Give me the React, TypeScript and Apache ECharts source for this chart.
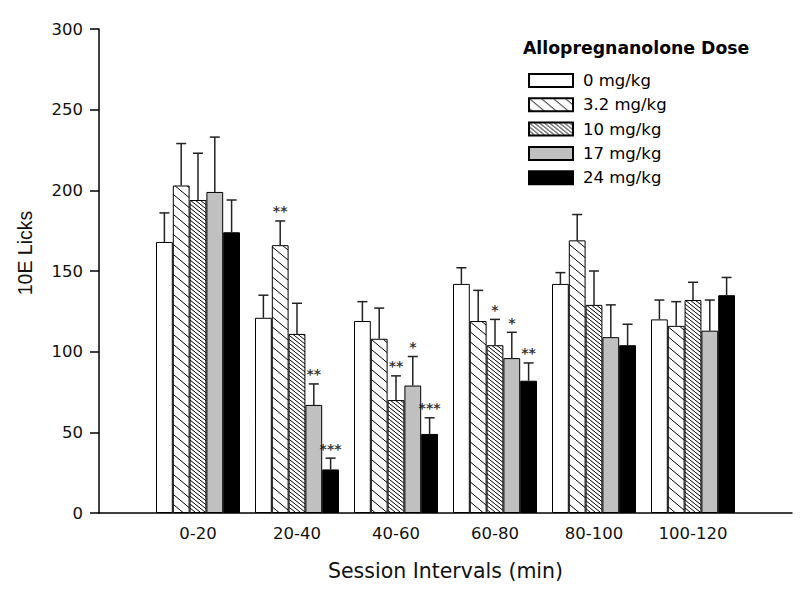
import React, { useEffect, useRef } from 'react';
import * as echarts from 'echarts';

const categories = ['0-20', '20-40', '40-60', '60-80', '80-100', '100-120'];
const doses = ['0 mg/kg', '3.2 mg/kg', '10 mg/kg', '17 mg/kg', '24 mg/kg'];

const mean0 = [168, 121, 119, 142, 142, 120];
const mean32 = [203, 166, 108, 119, 169, 116];
const mean10 = [194, 111, 70, 104, 129, 132];
const mean17 = [199, 67, 79, 96, 109, 113];
const mean24 = [174, 27, 49, 82, 104, 135];

const sem0 = [18, 14, 12, 10, 7, 12];
const sem32 = [26, 15, 19, 19, 16, 15];
const sem10 = [29, 19, 15, 16, 21, 11];
const sem17 = [34, 13, 18, 16, 20, 19];
const sem24 = [20, 7, 10, 11, 13, 11];

const sig0 = ['', '', '', '', '', ''];
const sig32 = ['', '**', '', '', '', ''];
const sig10 = ['', '', '**', '*', '', ''];
const sig17 = ['', '**', '*', '*', '', ''];
const sig24 = ['', '***', '***', '**', '', ''];

const yTicks = [0, 50, 100, 150, 200, 250, 300];

const FONT = '"DejaVu Sans", sans-serif';
const BAR_W = 16.8;

function hatch(w: number, h: number) {
  const c = document.createElement('canvas');
  c.width = w;
  c.height = h;
  const ctx = c.getContext('2d')!;
  ctx.fillStyle = '#fff';
  ctx.fillRect(0, 0, w, h);
  ctx.strokeStyle = '#000';
  ctx.lineWidth = 1;
  for (const k of [-1, 0, 1]) {
    ctx.beginPath();
    ctx.moveTo(k * w, k * h);
    ctx.lineTo(k * w + w, k * h + h);
    ctx.stroke();
  }
  return c;
}

export default function App() {
  const ref = useRef<HTMLDivElement>(null);
  useEffect(() => {
    if (!ref.current) return;
    const chart = echarts.init(ref.current, undefined, { renderer: 'svg' });
    const means = [mean0, mean32, mean10, mean17, mean24];
    const sems = [sem0, sem32, sem10, sem17, sem24];
    const sigs = [sig0, sig32, sig10, sig17, sig24];
    const fills: any[] = [
      '#ffffff',
      { image: hatch(12, 10), repeat: 'repeat' },
      { image: hatch(5, 4), repeat: 'repeat' },
      '#c0c0c0',
      '#000000',
    ];
    const barSeries = doses.map((d, k) => ({
      type: 'bar',
      name: d,
      barWidth: BAR_W,
      barGap: '0%',
      data: means[k].map((v, i) => [i + 1, v]),
      itemStyle: { color: fills[k], borderColor: '#000', borderWidth: 1 },
      z: 2,
    }));
    const errSeries = doses.map((d, k) => ({
      type: 'custom',
      name: 'err' + k,
      z: 3,
      itemStyle: { color: '#222' },
      data: means[k].map((v, i) => [i + 1, v, sems[k][i]]),
      renderItem: (params: any, api: any) => {
        const x = api.value(0);
        const m = api.value(1);
        const e = api.value(2);
        const b = api.coord([x, m]);
        const t = api.coord([x, m + e]);
        const cx = b[0] + (k - 2) * BAR_W;
        return {
          type: 'group',
          children: [
            { type: 'line', shape: { x1: cx, y1: b[1], x2: cx, y2: t[1] }, style: { stroke: '#222', lineWidth: 1.5 } },
            { type: 'line', shape: { x1: cx - 5, y1: t[1], x2: cx + 5, y2: t[1] }, style: { stroke: '#222', lineWidth: 1.5 } },
          ],
        };
      },
    }));
    const sigSeries = doses.map((d, k) => ({
      type: 'scatter',
      name: 'sig' + k,
      z: 4,
      symbol: 'circle',
      symbolSize: 1,
      silent: true,
      itemStyle: { color: 'rgba(255,255,255,0)' },
      data: means[k].map((v, i) => ({
        value: [i + 1, v + sems[k][i]],
        label: {
          show: sigs[k][i] !== '',
          formatter: sigs[k][i] || ' ',
        },
      })),
      label: {
        position: 'top',
        distance: 2,
        offset: [(k - 2) * BAR_W, 0],
        color: '#000',
        fontFamily: FONT,
        fontWeight: 'bold',
        fontSize: 14,
        textBorderWidth: 0,
      },
    }));
    chart.setOption({
      animation: false,
      backgroundColor: '#fff',
      title: {
        text: 'Allopregnanolone Dose',
        left: 523,
        top: 39,
        padding: 0,
        textStyle: { fontFamily: FONT, fontSize: 17.3, fontWeight: 'bold', color: '#000' },
      },
      legend: {
        data: doses,
        orient: 'vertical',
        left: 528,
        top: 72,
        padding: 0,
        itemWidth: 44,
        itemHeight: 13,
        itemGap: 7.3,
        icon: 'rect',
        textStyle: { fontFamily: FONT, fontSize: 16.5, color: '#000', lineHeight: 16, padding: [0, 0, 0, 5] },
      },
      grid: { left: 99, right: 8, top: 29, bottom: 87 },
      xAxis: {
        type: 'value',
        min: 0,
        max: 7,
        interval: 1,
        splitLine: { show: false },
        axisTick: { show: false },
        axisLine: { show: true, lineStyle: { color: '#000', width: 1.5 } },
        axisLabel: {
          margin: 12,
          fontFamily: FONT,
          fontSize: 16.5,
          color: '#111',
          formatter: (v: number) => categories[v - 1] ?? '',
        },
        name: 'Session Intervals (min)',
        nameLocation: 'middle',
        nameGap: 47,
        nameTextStyle: { fontFamily: FONT, fontSize: 20.5, color: '#111' },
      },
      yAxis: {
        type: 'value',
        min: yTicks[0],
        max: yTicks[yTicks.length - 1],
        interval: 50,
        splitLine: { show: false },
        axisLine: { show: true, lineStyle: { color: '#000', width: 1.5 } },
        axisTick: { show: true, length: 9, lineStyle: { color: '#000', width: 1.5 } },
        axisLabel: { margin: 16, fontFamily: FONT, fontSize: 16.5, color: '#111' },
      },
      graphic: [
        {
          type: 'text',
          x: 25,
          y: 253,
          rotation: Math.PI / 2,
          style: {
            text: '10E Licks', align: 'center', verticalAlign: 'middle',
            fontFamily: '"Liberation Sans", Arial, sans-serif', fontSize: 19.5, fill: '#111',
          },
        },
      ],
      series: [...barSeries, ...errSeries, ...sigSeries],
    });
    return () => chart.dispose();
  }, []);
  return <div ref={ref} style={{ width: 800, height: 600, position: 'absolute', left: 0, top: 0 }} />;
}
